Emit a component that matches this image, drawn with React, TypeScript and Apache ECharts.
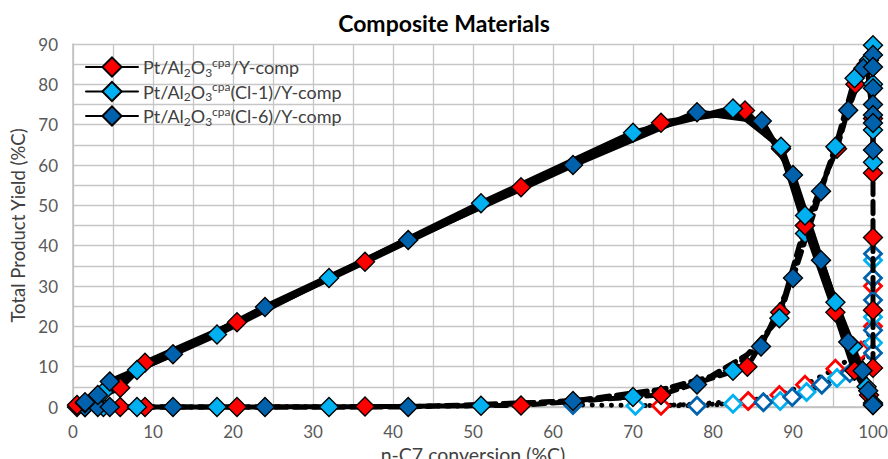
import React, { useEffect, useRef } from "react";
import * as echarts from "echarts";

// ---- Data (conversion %C, yield %C) ----
const xTicks = [0, 10, 20, 30, 40, 50, 60, 70, 80, 90, 100];
const yTicks = [0, 10, 20, 30, 40, 50, 60, 70, 80, 90];

const seriesNames = [
  "Pt/Al2O3cpa/Y-comp",
  "Pt/Al2O3cpa(Cl-1)/Y-comp",
  "Pt/Al2O3cpa(Cl-6)/Y-comp",
];
const legendRich = [
  "Pt/Al{sub|2}O{sub|3}{sup|cpa}/Y-comp",
  "Pt/Al{sub|2}O{sub|3}{sup|cpa}(Cl-1)/Y-comp",
  "Pt/Al{sub|2}O{sub|3}{sup|cpa}(Cl-6)/Y-comp",
];

// Total product yield (filled, solid line)
const redTotal = [[0.5, 0.5], [5.9, 4.8], [9, 11], [20.5, 21], [36.5, 36], [56, 54.5], [73.5, 70.5], [84, 73.5], [88.5, 64], [91.5, 45], [95.3, 23.5], [97.7, 9], [99.5, 3], [100, 0.5]];
const lblueTotal = [[1.5, 1], [3.8, 3.7], [8, 9.2], [18, 18], [32, 32], [51, 50.5], [70, 68], [82.5, 74], [88.5, 64.5], [91.5, 47.5], [95.3, 26], [97.5, 15], [99.2, 5], [100, 1]];
const dblueTotal = [[1.5, 1.2], [3.1, 3], [4.6, 6.3], [12.5, 13.1], [24, 24.8], [41.9, 41.4], [62.5, 60], [78, 73.1], [86.1, 70.9], [90, 57.5], [93.5, 36.4], [96.9, 16.1], [98.7, 9], [99.4, 4], [100, 0.5]];

// Second yield (filled, dashed line)
const redCrack = [[0.5, 0], [5.9, 0], [9, 0], [20.5, 0], [36.5, 0.1], [56, 0.4], [73.5, 3], [84.3, 10], [88.4, 23.5], [91.5, 45], [95.5, 64], [97.8, 80], [99.2, 85], [100, 71.5], [100, 58], [100, 42], [100, 24], [100, 9.7]];
const lblueCrack = [[1.5, 0], [3.8, 0], [8, 0], [18, 0], [32, 0], [51, 0.3], [70, 2.5], [82.5, 9], [88.3, 22], [91.5, 43], [95.3, 64.5], [97.7, 81.5], [99.5, 86], [100, 89.7], [100, 80], [100, 68.7], [100, 60.7]];
const dblueCrack = [[1.5, 0], [3.1, 0], [4.6, 0], [12.5, 0], [24, 0], [41.9, 0], [62.5, 1.5], [78, 5.6], [86, 15], [90, 32], [93.5, 53.5], [96.9, 73.6], [98.8, 84], [100, 87.3], [100, 84.3], [100, 79], [100, 75], [100, 72.4], [100, 70.4], [100, 63.7]];

// Third yield (hollow, dotted line)
const redHollow = [[73.5, 0.3], [84.4, 1.5], [88.3, 3], [91.5, 5.5], [95.3, 9.5], [98.5, 14], [100, 20], [100, 30]];
const lblueHollow = [[70.3, 0.3], [82.5, 0.8], [88.4, 1.5], [91.7, 3.7], [95.5, 7.2], [97.6, 9], [100, 15.9], [100, 22.3], [100, 36.4]];
const dblueHollow = [[62.5, 0.5], [78, 0.3], [86.3, 1.2], [89.9, 2.5], [93.6, 5.5], [97.1, 8.4], [100, 13.4], [100, 19], [100, 26.5], [100, 32], [100, 38]];

const colors = ["#FF0000", "#00B0F0", "#0062AC"];
const FONT = "Lato, 'Open Sans', sans-serif";

function filled(name: string, data: number[][], color: string, lineType: any, width: number, z: number) {
  return {
    type: "line",
    name,
    data,
    symbol: "diamond",
    symbolSize: 19,
    showAllSymbol: true,
    clip: false,
    z,
    silent: true,
    itemStyle: { color, borderColor: "#000", borderWidth: 1.4 },
    lineStyle: { color: "#000", width, type: lineType, cap: "round" },
    emphasis: { disabled: true },
  };
}

function hollow(name: string, data: number[][], color: string, z: number) {
  return {
    type: "line",
    name,
    data,
    symbol: "diamond",
    symbolSize: 17,
    showAllSymbol: true,
    clip: false,
    z,
    silent: true,
    itemStyle: { color: "#fff", borderColor: color, borderWidth: 2.8 },
    lineStyle: { color: "#000", width: 5, type: [0.1, 9.5], cap: "round" },
    emphasis: { disabled: true },
  };
}

export default function App() {
  const ref = useRef<HTMLDivElement>(null);
  useEffect(() => {
    document.body.style.margin = "0";
    const chart = echarts.init(ref.current!, null, { renderer: "svg" });
    const gridColor = "#c6c6c6";
    const option: any = {
      animation: false,
      backgroundColor: "#fff",
      title: {
        text: "Composite Materials",
        left: "center",
        top: 6,
        textStyle: { fontFamily: FONT, fontSize: 23, fontWeight: "bold", color: "#000" },
      },
      legend: {
        data: seriesNames,
        left: 80,
        top: 51,
        orient: "vertical",
        itemWidth: 52,
        itemHeight: 24,
        itemGap: 2.5,
        formatter: (n: string) => legendRich[seriesNames.indexOf(n)],
        textStyle: {
          fontFamily: FONT,
          fontSize: 18,
          color: "#404040",
          lineHeight: 22,
          rich: {
            sub: { fontFamily: FONT, fontSize: 12, color: "#404040", verticalAlign: "bottom", lineHeight: 14 },
            sup: { fontFamily: FONT, fontSize: 12, color: "#404040", verticalAlign: "top", lineHeight: 14 },
          },
        },
      },
      grid: { left: 73, right: 15, top: 44, bottom: 52, outerBoundsMode: "none", containLabel: false },
      xAxis: {
        type: "value",
        min: xTicks[0],
        max: xTicks[xTicks.length - 1],
        interval: 10,
        name: "n-C7 conversion (%C)",
        nameLocation: "middle",
        nameGap: 31,
        nameTextStyle: { fontFamily: FONT, fontSize: 19.5, color: "#404040" },
        axisLine: { show: true, lineStyle: { color: "#bfbfbf", width: 1.5 } },
        axisTick: { show: false },
        axisLabel: { fontFamily: FONT, fontSize: 17, color: "#595959", margin: 16 },
        splitLine: { show: true, lineStyle: { color: gridColor, width: 1.3 } },
        minorTick: { show: false, splitNumber: 2 },
        minorSplitLine: { show: true, lineStyle: { color: gridColor, width: 1.3 } },
      },
      yAxis: {
        type: "value",
        min: yTicks[0],
        max: yTicks[yTicks.length - 1],
        interval: 10,
        name: "Total Product Yield (%C)",
        nameLocation: "middle",
        nameGap: 43,
        nameTextStyle: { fontFamily: FONT, fontSize: 18.5, color: "#404040" },
        axisLine: { show: true, lineStyle: { color: "#bfbfbf", width: 1.5 } },
        axisTick: { show: false },
        axisLabel: { fontFamily: FONT, fontSize: 17, color: "#595959", margin: 15 },
        splitLine: { show: true, lineStyle: { color: gridColor, width: 1.3 } },
        minorTick: { show: false, splitNumber: 2 },
        minorSplitLine: { show: true, lineStyle: { color: gridColor, width: 1.3 } },
      },
      series: [
        hollow("redHollow", redHollow, colors[0], 3),
        hollow("lblueHollow", lblueHollow, colors[1], 3),
        hollow("dblueHollow", dblueHollow, colors[2], 3),
        filled("redCrack", redCrack, colors[0], [12, 7], 5, 4),
        filled("lblueCrack", lblueCrack, colors[1], [12, 7], 5, 4),
        filled("dblueCrack", dblueCrack, colors[2], [12, 7], 5, 4),
        filled(seriesNames[0], redTotal, colors[0], "solid", 6, 5),
        filled(seriesNames[1], lblueTotal, colors[1], "solid", 6, 5),
        filled(seriesNames[2], dblueTotal, colors[2], "solid", 6, 5),
      ],
    };
    chart.setOption(option);
    return () => chart.dispose();
  }, []);
  return <div ref={ref} style={{ width: 888, height: 459 }} />;
}
